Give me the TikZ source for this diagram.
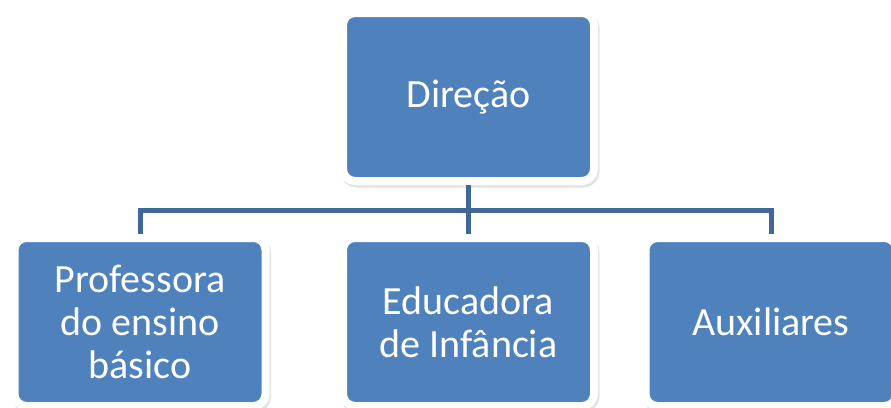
\documentclass[tikz,border=0pt]{standalone}
\usepackage{fontspec}
\setmainfont{Carlito}
\usetikzlibrary{shadows}
\definecolor{boxblue}{HTML}{4F81BD}
\definecolor{linkblue}{HTML}{41679A}
\tikzset
{
    chartnode/.style = {rectangle, rounded corners=12pt, draw=white, line width=8pt, fill=boxblue, text=white, align=center, minimum width=251pt, minimum height=168pt, font=\fontsize{40}{43}\selectfont, drop shadow={shadow xshift=1.5pt, shadow yshift=-2.5pt, opacity=.18, fill=black!60, draw=black!60, line width=8pt}},
    chartlink/.style = {draw=linkblue, line width=5pt}
}
\begin{document}
\begin{tikzpicture}[x=1pt, y=1pt, level/.style={sibling distance = 315pt, level distance = 225pt},
  edge from parent/.style={chartlink},
  edge from parent path={(\tikzparentnode.south) -- ++(0,-25) -| (\tikzchildnode.north)}]
\useasboundingbox (0,0) rectangle (891,-407);
\node[chartnode] (dir) at (468.5,-97) {Direção}
  child[xshift=-13.5pt]{
    node[chartnode] (prof) {Professora\\do ensino\\básico}
  }
  child{
    node[chartnode] (edu) {Educadora\\de Infância}
  }
  child[xshift=-12.5pt]{
    node[chartnode] (aux) {Auxiliares}
  };
\end{tikzpicture}
\end{document}
